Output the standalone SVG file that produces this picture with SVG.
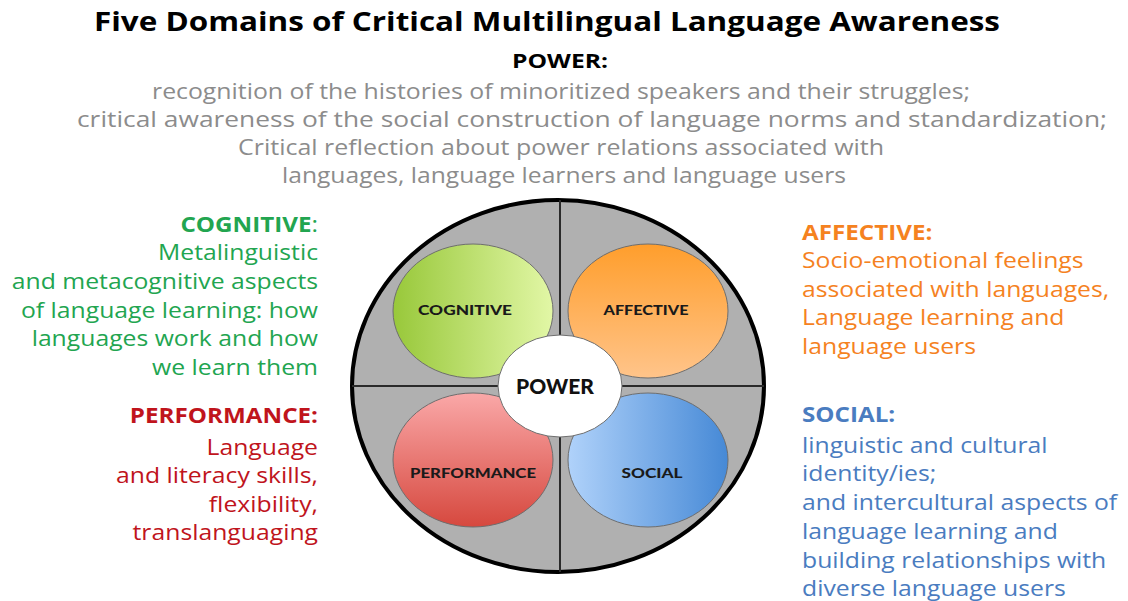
<svg xmlns="http://www.w3.org/2000/svg" width="1128" height="601" viewBox="0 0 1128 601">
<style>
.title{font-family:"Open Sans","Liberation Sans",sans-serif;font-weight:bold;font-size:27px;fill:#000}
.ptitle{font-family:"Open Sans","Liberation Sans",sans-serif;font-weight:bold;font-size:19px;fill:#000}
.gray{font-family:"Open Sans","Liberation Sans",sans-serif;font-size:22px;fill:#8c8c8c}
.side{font-family:"Open Sans","Liberation Sans",sans-serif;font-size:22px}
.sideb{font-family:"Open Sans","Liberation Sans",sans-serif;font-size:21.5px;font-weight:bold}
.green{fill:#22a550}.red{fill:#c0141c}.orange{fill:#f5821f}.blue{fill:#4a7cc0}
.petal{stroke:#6e6e6e;stroke-width:1}
.plabel{font-family:"Lato","Open Sans",sans-serif;font-weight:900;font-size:14px;fill:#1a1a1a;text-anchor:middle}
</style>
<defs>
<linearGradient id="gCog" x1="0" y1="0" x2="1" y2="0"><stop offset="0" stop-color="#98c83a"/><stop offset="1" stop-color="#e2f7a6"/></linearGradient>
<linearGradient id="gAff" x1="0" y1="0" x2="0" y2="1"><stop offset="0" stop-color="#ff9e2c"/><stop offset="1" stop-color="#ffc48a"/></linearGradient>
<linearGradient id="gPerf" x1="0" y1="0" x2="0" y2="1"><stop offset="0" stop-color="#faa8a8"/><stop offset="1" stop-color="#d6483e"/></linearGradient>
<linearGradient id="gSoc" x1="0" y1="0" x2="1" y2="0"><stop offset="0" stop-color="#b0d2fa"/><stop offset="1" stop-color="#4689d6"/></linearGradient>
</defs>

<g id="header">
<text class="title" x="547" y="31" text-anchor="middle" textLength="906" lengthAdjust="spacingAndGlyphs">Five Domains of Critical Multilingual Language Awareness</text>
<text class="ptitle" x="560" y="68" text-anchor="middle" textLength="96" lengthAdjust="spacingAndGlyphs">POWER:</text>
<text class="gray" x="561" y="99" text-anchor="middle" textLength="818" lengthAdjust="spacingAndGlyphs">recognition of the histories of minoritized speakers and their struggles;</text>
<text class="gray" x="592" y="127" text-anchor="middle" textLength="1030" lengthAdjust="spacingAndGlyphs">critical awareness of the social construction of language norms and standardization;</text>
<text class="gray" x="561" y="155" text-anchor="middle" textLength="646" lengthAdjust="spacingAndGlyphs">Critical reflection about power relations associated with</text>
<text class="gray" x="564" y="183" text-anchor="middle" textLength="564" lengthAdjust="spacingAndGlyphs">languages, language learners and language users</text>
</g>

<g id="wheel">
<ellipse cx="558" cy="386" rx="206" ry="186" fill="#b0b0b0" stroke="#000" stroke-width="4"/>
<line x1="560" y1="200" x2="560" y2="572" stroke="#2a2a2a" stroke-width="2"/>
<line x1="352" y1="386" x2="764" y2="386" stroke="#2a2a2a" stroke-width="2"/>
</g>

<g id="cognitive">
<ellipse class="petal" cx="473" cy="311" rx="80" ry="67" fill="url(#gCog)"/>
<text class="plabel" x="465" y="315" textLength="94" lengthAdjust="spacingAndGlyphs">COGNITIVE</text>
</g>
<g id="affective">
<ellipse class="petal" cx="648" cy="311" rx="80" ry="67" fill="url(#gAff)"/>
<text class="plabel" x="646" y="315" textLength="85" lengthAdjust="spacingAndGlyphs">AFFECTIVE</text>
</g>
<g id="performance">
<ellipse class="petal" cx="473" cy="460" rx="80" ry="67" fill="url(#gPerf)"/>
<text class="plabel" x="473" y="478" textLength="126" lengthAdjust="spacingAndGlyphs">PERFORMANCE</text>
</g>
<g id="social">
<ellipse class="petal" cx="648" cy="460" rx="80" ry="67" fill="url(#gSoc)"/>
<text class="plabel" x="652" y="478" textLength="61" lengthAdjust="spacingAndGlyphs">SOCIAL</text>
</g>
<g id="power">
<ellipse cx="560" cy="386" rx="62" ry="51" fill="#fff" stroke="#6e6e6e" stroke-width="1"/>
<text x="555" y="394" text-anchor="middle" style="font-family:'Lato','Open Sans',sans-serif;font-weight:900;font-size:21px;fill:#111">POWER</text>
</g>

<g id="cognitive-text" text-anchor="end" transform="matrix(1.125,0,0,1,-39.75,0)">
<text x="318" y="232"><tspan class="sideb green">COGNITIVE</tspan><tspan class="side green">:</tspan></text>
<text class="side green" x="318" y="260">Metalinguistic</text>
<text class="side green" x="318" y="289">and metacognitive aspects</text>
<text class="side green" x="318" y="318">of language learning: how</text>
<text class="side green" x="318" y="346">languages work and how</text>
<text class="side green" x="318" y="375">we learn them</text>
</g>
<g id="performance-text" text-anchor="end" transform="matrix(1.125,0,0,1,-39.75,0)">
<text class="sideb red" x="318" y="423">PERFORMANCE:</text>
<text class="side red" x="318" y="455">Language</text>
<text class="side red" x="318" y="483">and literacy skills,</text>
<text class="side red" x="318" y="512">flexibility,</text>
<text class="side red" x="318" y="540">translanguaging</text>
</g>
<g id="affective-text" transform="matrix(1.125,0,0,1,-100.25,0)">
<text class="sideb orange" x="802" y="240">AFFECTIVE:</text>
<text class="side orange" x="802" y="268">Socio-emotional feelings</text>
<text class="side orange" x="802" y="297">associated with languages,</text>
<text class="side orange" x="802" y="325">Language learning and</text>
<text class="side orange" x="802" y="354">language users</text>
</g>
<g id="social-text" transform="matrix(1.125,0,0,1,-100.25,0)">
<text class="sideb blue" x="802" y="422">SOCIAL:</text>
<text class="side blue" x="802" y="453">linguistic and cultural</text>
<text class="side blue" x="802" y="481">identity/ies;</text>
<text class="side blue" x="802" y="510">and intercultural aspects of</text>
<text class="side blue" x="802" y="539">language learning and</text>
<text class="side blue" x="802" y="568">building relationships with</text>
<text class="side blue" x="802" y="596">diverse language users</text>
</g>
</svg>
